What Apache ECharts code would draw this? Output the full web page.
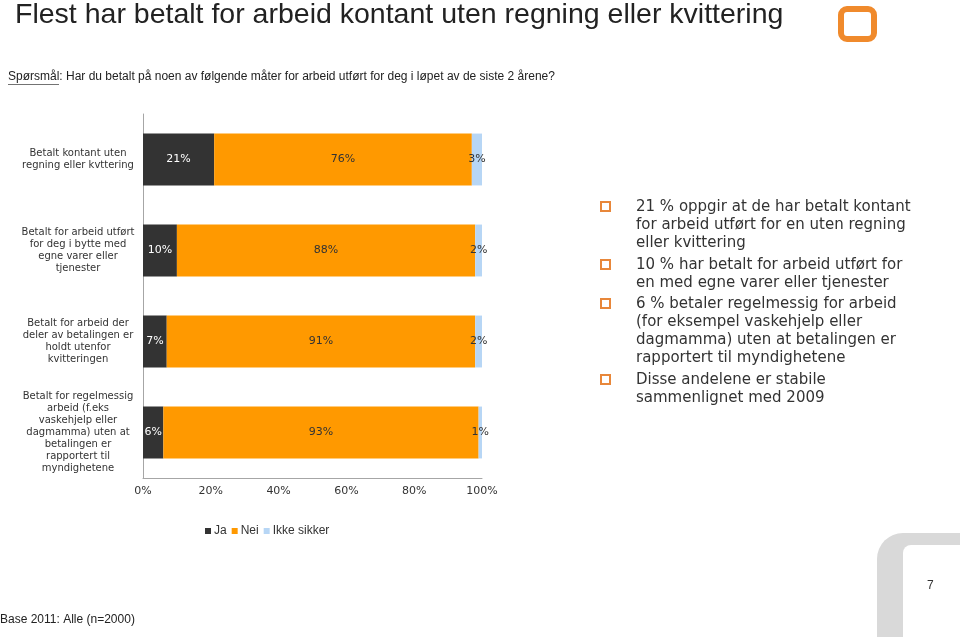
<!DOCTYPE html>
<html>
<head>
<meta charset="utf-8">
<script src="https://cdn.jsdelivr.net/npm/echarts@6/dist/echarts.min.js"></script>
<style>html,body{margin:0;padding:0;background:#fff}#c{width:960px;height:637px}</style>
</head>
<body>
<div id="c"></div>
<script>
var categories = [
  'Betalt kontant uten\nregning eller kvttering',
  'Betalt for arbeid utført\nfor deg i bytte med\negne varer eller\ntjenester',
  'Betalt for arbeid der\ndeler av betalingen er\nholdt utenfor\nkvitteringen',
  'Betalt for regelmessig\narbeid (f.eks\nvaskehjelp eller\ndagmamma) uten at\nbetalingen er\nrapportert til\nmyndighetene'
];
var seriesNames = ['Ja', 'Nei', 'Ikke sikker'];
var jaValues = [21, 10, 7, 6];
var neiValues = [76, 88, 91, 93];
var ikkeSikkerValues = [3, 2, 2, 1];
var xTicks = [0, 20, 40, 60, 80, 100];
var bullets = [
  '21 % oppgir at de har betalt kontant\nfor arbeid utført for en uten regning\neller kvittering',
  '10 % har betalt for arbeid utført for\nen med egne varer eller tjenester',
  '6 % betaler regelmessig for arbeid\n(for eksempel vaskehjelp eller\ndagmamma) uten at betalingen er\nrapportert til myndighetene',
  'Disse andelene er stabile\nsammenlignet med 2009'
];
var bulletTops = [198, 256, 295, 371];

var chart = echarts.init(document.getElementById('c'));
var F = 'DejaVu Sans, Verdana, sans-serif';
var LS = '"Liberation Sans", Arial, sans-serif';
var colors = ['#333333', '#ff9900', '#b7d6f5'];
var labelColors = ['#ffffff', '#333333', '#333333'];
var vals = [jaValues, neiValues, ikkeSikkerValues];

var series = seriesNames.map(function (n, i) {
  return {
    name: n, type: 'bar', stack: 'tot', barWidth: '57%',
    data: vals[i],
    itemStyle: { color: colors[i] },
    label: { show: true, position: 'inside', formatter: '{c}%', color: labelColors[i], fontFamily: F, fontSize: 11 }
  };
});

function txt(x, y, s, font, fill, extra) {
  var st = { text: s, font: font, fill: fill, verticalAlign: 'top', align: 'left' };
  if (extra) for (var k in extra) st[k] = extra[k];
  return { type: 'text', x: x, y: y, style: st };
}

var graphics = [
  txt(15, 1, 'Flest har betalt for arbeid kontant uten regning eller kvittering', '28.5px ' + LS, '#222'),
  txt(8, 71, 'Spørsmål: Har du betalt på noen av følgende måter for arbeid utført for deg i løpet av de siste 2 årene?', '12px ' + LS, '#222'),
  { type: 'rect', shape: { x: 8, y: 84, width: 51, height: 0.8 }, style: { fill: '#444' } },
  { type: 'rect', shape: { x: 841, y: 9, width: 33, height: 30, r: 6 }, style: { fill: 'none', stroke: '#f08a2c', lineWidth: 6 } },
  { type: 'rect', shape: { x: 877, y: 533, width: 200, height: 200, r: [26, 0, 0, 0] }, style: { fill: '#d9d9d9' } },
  { type: 'rect', shape: { x: 903, y: 545, width: 200, height: 200, r: [8, 0, 0, 0] }, style: { fill: '#ffffff' } },
  txt(927, 580, '7', '12px ' + LS, '#333'),
  txt(0, 614, 'Base 2011: Alle (n=2000)', '12px ' + LS, '#222')
];
bullets.forEach(function (b, i) {
  graphics.push({ type: 'rect', shape: { x: 601, y: bulletTops[i] + 4, width: 9, height: 9 }, style: { fill: 'none', stroke: '#e8873a', lineWidth: 2 } });
  graphics.push(txt(636, bulletTops[i], b, '15px ' + F, '#333', { lineHeight: 18 }));
});

chart.setOption({
  animation: false,
  textStyle: { fontFamily: F },
  grid: { left: 143, right: 478, top: 114, bottom: 159, containLabel: false },
  legend: {
    data: seriesNames, left: 205, top: 525, padding: 0, itemWidth: 6, itemHeight: 6, itemGap: 5,
    icon: 'rect',
    textStyle: { fontFamily: LS, fontSize: 12, color: '#333', padding: [0, 0, 0, -2] }
  },
  xAxis: {
    type: 'value', min: 0, max: 100, interval: 20,
    axisLine: { show: true, lineStyle: { color: '#a6a6a6' } },
    axisTick: { show: false }, splitLine: { show: false },
    axisLabel: { formatter: '{value}%', color: '#333', fontSize: 11, fontFamily: F, margin: 8 }
  },
  yAxis: {
    type: 'category', data: categories, inverse: true,
    axisLine: { show: true, lineStyle: { color: '#a6a6a6' } },
    axisTick: { show: false },
    axisLabel: { align: 'center', margin: 65, color: '#333', fontSize: 10, lineHeight: 12, fontFamily: F }
  },
  series: series,
  graphic: graphics
});
</script>
</body>
</html>
